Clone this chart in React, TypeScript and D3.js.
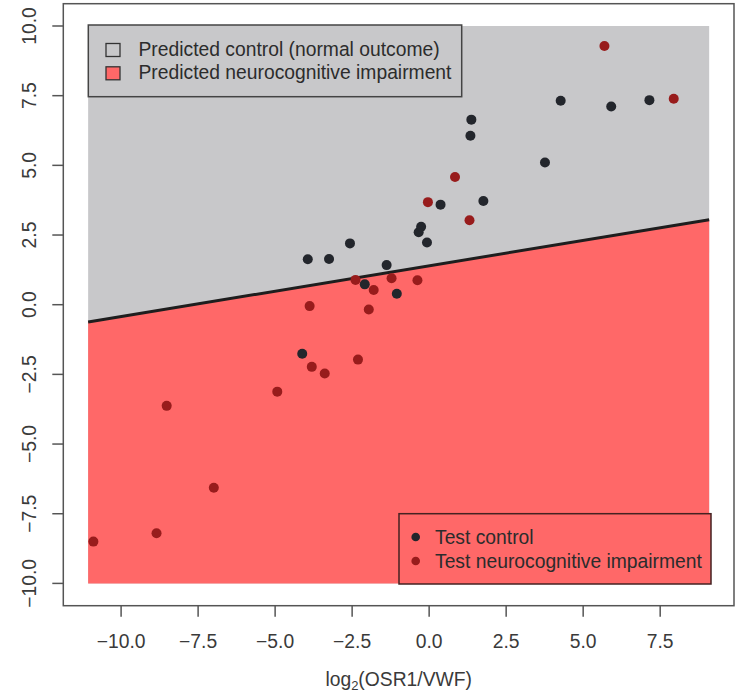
import React from "react";
import * as d3 from "d3";

// Test samples: log2(OSR1/VWF) vs. discriminant score
const controlX = [-3.94, -3.25, -2.57, -1.38, -2.09, -1.05, -0.34, -0.26, -0.07, 0.37, 4.27, 5.91, 7.15, 1.37, 1.34, 3.76, 1.76, -4.12];
const controlY = [1.63, 1.64, 2.2, 1.42, 0.73, 0.39, 2.6, 2.8, 2.23, 3.59, 7.32, 7.11, 7.34, 6.64, 6.06, 5.1, 3.72, -1.76];

const impairX = [-2.39, -1.8, -1.22, -0.38, -3.88, -1.96, -0.04, 5.69, 7.94, 0.84, 1.31, -3.81, -3.39, -2.31, -4.93, -8.52, -6.99, -8.85, -10.9];
const impairY = [0.89, 0.53, 0.95, 0.88, -0.05, -0.17, 3.68, 9.28, 7.39, 4.58, 3.03, -2.23, -2.47, -1.97, -3.12, -3.63, -6.57, -8.2, -8.5];

// Decision region extent and boundary line
const regionX = [-11.07, 9.09];
const regionY = [-10, 10];
const boundaryIntercept = 1.395;
const boundarySlope = 0.182;

const xTicks = [-10, -7.5, -5, -2.5, 0, 2.5, 5, 7.5];
const yTicks = [-10, -7.5, -5, -2.5, 0, 2.5, 5, 7.5, 10];

const regionLegend = ["Predicted control (normal outcome)", "Predicted neurocognitive impairment"];
const pointLegend = ["Test control", "Test neurocognitive impairment"];

const W = 741;
const H = 696;
const box = { left: 63.3, right: 734, top: 3.7, bottom: 605.7 };

const GRAY = "#c8c8ca";
const RED = "#ff6868";
const DARK = "#23262c";
const DARKRED = "#981c1c";
const FONT = "'Liberation Sans', Arial, Helvetica, sans-serif";
const FS = 19.3;

export default function App() {
  const xPad = (regionX[1] - regionX[0]) * 0.04;
  const yPad = (regionY[1] - regionY[0]) * 0.04;
  const x = d3.scaleLinear().domain([regionX[0] - xPad, regionX[1] + xPad]).range([box.left, box.right]);
  const y = d3.scaleLinear().domain([regionY[0] - yPad, regionY[1] + yPad]).range([box.bottom, box.top]);

  const lineY = (v: number) => boundaryIntercept + boundarySlope * v;
  const x0 = regionX[0], x1 = regionX[1];

  const redPoly = [
    [x0, regionY[0]],
    [x1, regionY[0]],
    [x1, lineY(x1)],
    [x0, lineY(x0)],
  ];
  const polyPath = d3.line<number[]>().x((d) => x(d[0])).y((d) => y(d[1]))(redPoly) + "Z";

  const fmt = d3.format(".1f");
  const minus = (v: number) => fmt(v).replace("-", "\u2212");

  const controls = controlX.map((v, i) => [v, controlY[i]]);
  const impairs = impairX.map((v, i) => [v, impairY[i]]);
  const r = 5;

  return (
    <svg width={W} height={H} style={{ position: "absolute", left: 0, top: 0, background: "#fff" }} fontFamily={FONT}>
      {/* decision regions */}
      <rect x={x(x0)} y={y(regionY[1])} width={x(x1) - x(x0)} height={y(regionY[0]) - y(regionY[1])} fill={GRAY} />
      <path d={polyPath} fill={RED} />
      <line x1={x(x0)} y1={y(lineY(x0))} x2={x(x1)} y2={y(lineY(x1))} stroke="#1e1e1e" strokeWidth={3} />

      {/* points */}
      {controls.map((d, i) => (
        <circle key={"c" + i} cx={x(d[0])} cy={y(d[1])} r={r} fill={DARK} />
      ))}
      {impairs.map((d, i) => (
        <circle key={"n" + i} cx={x(d[0])} cy={y(d[1])} r={r} fill={DARKRED} />
      ))}

      {/* plot frame */}
      <rect x={box.left} y={box.top} width={box.right - box.left} height={box.bottom - box.top} fill="none" stroke="#555" strokeWidth={1.5} />

      {/* x axis */}
      {xTicks.map((t) => (
        <g key={"x" + t}>
          <line x1={x(t)} x2={x(t)} y1={box.bottom} y2={box.bottom + 11} stroke="#555" strokeWidth={1.5} />
          <text x={x(t)} y={648} textAnchor="middle" fontSize={FS} fill="#3a3a3a">
            {minus(t)}
          </text>
        </g>
      ))}
      {/* y axis */}
      {yTicks.map((t) => (
        <g key={"y" + t}>
          <line x1={box.left - 11} x2={box.left} y1={y(t)} y2={y(t)} stroke="#555" strokeWidth={1.5} />
          <text transform={`translate(${box.left - 27},${y(t)}) rotate(-90)`} textAnchor="middle" fontSize={FS} fill="#3a3a3a">
            {minus(t)}
          </text>
        </g>
      ))}
      <text x={(box.left + box.right) / 2} y={686} textAnchor="middle" fontSize={FS} fill="#3a3a3a">
        log
        <tspan fontSize={13} dy={4}>2</tspan>
        <tspan dy={-4}>(OSR1/VWF)</tspan>
      </text>

      {/* region legend */}
      <rect x={88.3} y={25} width={373.4} height={71.7} fill={GRAY} stroke="#444" strokeWidth={1.5} />
      {regionLegend.map((s, i) => (
        <g key={"rl" + i}>
          <rect x={106} y={43.5 + i * 23.3} width={14} height={13} fill={i === 0 ? GRAY : RED} stroke="#333" strokeWidth={1.3} />
          <text x={138.5} y={56 + i * 23.3} fontSize={FS} fill="#2c2c2c">
            {s}
          </text>
        </g>
      ))}

      {/* point legend */}
      <rect x={399} y={513.7} width={312} height={70.3} fill={RED} stroke="#442222" strokeWidth={1.5} />
      {pointLegend.map((s, i) => (
        <g key={"pl" + i}>
          <circle cx={415.7} cy={537 + i * 24} r={4.3} fill={i === 0 ? DARK : DARKRED} />
          <text x={435} y={544 + i * 24} fontSize={FS} fill="#2c2c2c">
            {s}
          </text>
        </g>
      ))}
    </svg>
  );
}
